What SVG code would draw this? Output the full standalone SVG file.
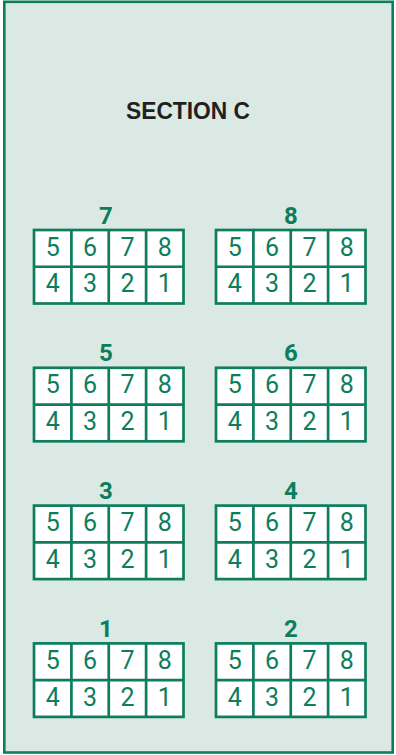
<svg xmlns="http://www.w3.org/2000/svg" width="396" height="755" viewBox="0 0 396 755">
<style>
.bg{fill:#dbe9e4;stroke:#0d7d5d;stroke-width:2.6}
.box{fill:#ffffff;stroke:#0d7d5d;stroke-width:2.7}
.ln{stroke:#0d7d5d;stroke-width:2.7}
.d{font-family:Roboto,"Liberation Sans",sans-serif;font-size:25px;fill:#0d7d5d;text-anchor:middle}
.lbl{font-family:Roboto,"Liberation Sans",sans-serif;font-size:24px;font-weight:bold;fill:#0d7d5d;text-anchor:middle}
.title{font-family:"Liberation Sans",Arial,sans-serif;font-size:24px;font-weight:bold;fill:#231f20}
</style>
<rect class="bg" x="4.3" y="1.8" width="388.4" height="750.7"/>
<text class="title" x="126" y="119" textLength="124" lengthAdjust="spacingAndGlyphs">SECTION C</text>
<g id="connectors"/>
<g id="table-7" transform="translate(34,230)">
<text class="lbl" x="72" y="-6.5">7</text>
<rect class="box" x="0" y="0" width="149.5" height="73.5"/>
<line class="ln" x1="0" y1="36.75" x2="149.5" y2="36.75"/>
<line class="ln" x1="37.4" y1="0" x2="37.4" y2="73.5"/>
<line class="ln" x1="74.75" y1="0" x2="74.75" y2="73.5"/>
<line class="ln" x1="112.1" y1="0" x2="112.1" y2="73.5"/>
<text class="d" x="18.7" y="25.7">5</text><text class="d" x="56.1" y="25.7">6</text><text class="d" x="93.45" y="25.7">7</text><text class="d" x="130.8" y="25.7">8</text>
<text class="d" x="18.7" y="62.3">4</text><text class="d" x="56.1" y="62.3">3</text><text class="d" x="93.45" y="62.3">2</text><text class="d" x="130.8" y="62.3">1</text>
</g>
<g id="table-8" transform="translate(216,230)">
<text class="lbl" x="75" y="-6.5">8</text>
<rect class="box" x="0" y="0" width="149.5" height="73.5"/>
<line class="ln" x1="0" y1="36.75" x2="149.5" y2="36.75"/>
<line class="ln" x1="37.4" y1="0" x2="37.4" y2="73.5"/>
<line class="ln" x1="74.75" y1="0" x2="74.75" y2="73.5"/>
<line class="ln" x1="112.1" y1="0" x2="112.1" y2="73.5"/>
<text class="d" x="18.7" y="25.7">5</text><text class="d" x="56.1" y="25.7">6</text><text class="d" x="93.45" y="25.7">7</text><text class="d" x="130.8" y="25.7">8</text>
<text class="d" x="18.7" y="62.3">4</text><text class="d" x="56.1" y="62.3">3</text><text class="d" x="93.45" y="62.3">2</text><text class="d" x="130.8" y="62.3">1</text>
</g>
<g id="table-5" transform="translate(34,367.8)">
<text class="lbl" x="72" y="-6.5">5</text>
<rect class="box" x="0" y="0" width="149.5" height="73.5"/>
<line class="ln" x1="0" y1="36.75" x2="149.5" y2="36.75"/>
<line class="ln" x1="37.4" y1="0" x2="37.4" y2="73.5"/>
<line class="ln" x1="74.75" y1="0" x2="74.75" y2="73.5"/>
<line class="ln" x1="112.1" y1="0" x2="112.1" y2="73.5"/>
<text class="d" x="18.7" y="25.7">5</text><text class="d" x="56.1" y="25.7">6</text><text class="d" x="93.45" y="25.7">7</text><text class="d" x="130.8" y="25.7">8</text>
<text class="d" x="18.7" y="62.3">4</text><text class="d" x="56.1" y="62.3">3</text><text class="d" x="93.45" y="62.3">2</text><text class="d" x="130.8" y="62.3">1</text>
</g>
<g id="table-6" transform="translate(216,367.8)">
<text class="lbl" x="75" y="-6.5">6</text>
<rect class="box" x="0" y="0" width="149.5" height="73.5"/>
<line class="ln" x1="0" y1="36.75" x2="149.5" y2="36.75"/>
<line class="ln" x1="37.4" y1="0" x2="37.4" y2="73.5"/>
<line class="ln" x1="74.75" y1="0" x2="74.75" y2="73.5"/>
<line class="ln" x1="112.1" y1="0" x2="112.1" y2="73.5"/>
<text class="d" x="18.7" y="25.7">5</text><text class="d" x="56.1" y="25.7">6</text><text class="d" x="93.45" y="25.7">7</text><text class="d" x="130.8" y="25.7">8</text>
<text class="d" x="18.7" y="62.3">4</text><text class="d" x="56.1" y="62.3">3</text><text class="d" x="93.45" y="62.3">2</text><text class="d" x="130.8" y="62.3">1</text>
</g>
<g id="table-3" transform="translate(34,505.6)">
<text class="lbl" x="72" y="-6.5">3</text>
<rect class="box" x="0" y="0" width="149.5" height="73.5"/>
<line class="ln" x1="0" y1="36.75" x2="149.5" y2="36.75"/>
<line class="ln" x1="37.4" y1="0" x2="37.4" y2="73.5"/>
<line class="ln" x1="74.75" y1="0" x2="74.75" y2="73.5"/>
<line class="ln" x1="112.1" y1="0" x2="112.1" y2="73.5"/>
<text class="d" x="18.7" y="25.7">5</text><text class="d" x="56.1" y="25.7">6</text><text class="d" x="93.45" y="25.7">7</text><text class="d" x="130.8" y="25.7">8</text>
<text class="d" x="18.7" y="62.3">4</text><text class="d" x="56.1" y="62.3">3</text><text class="d" x="93.45" y="62.3">2</text><text class="d" x="130.8" y="62.3">1</text>
</g>
<g id="table-4" transform="translate(216,505.6)">
<text class="lbl" x="75" y="-6.5">4</text>
<rect class="box" x="0" y="0" width="149.5" height="73.5"/>
<line class="ln" x1="0" y1="36.75" x2="149.5" y2="36.75"/>
<line class="ln" x1="37.4" y1="0" x2="37.4" y2="73.5"/>
<line class="ln" x1="74.75" y1="0" x2="74.75" y2="73.5"/>
<line class="ln" x1="112.1" y1="0" x2="112.1" y2="73.5"/>
<text class="d" x="18.7" y="25.7">5</text><text class="d" x="56.1" y="25.7">6</text><text class="d" x="93.45" y="25.7">7</text><text class="d" x="130.8" y="25.7">8</text>
<text class="d" x="18.7" y="62.3">4</text><text class="d" x="56.1" y="62.3">3</text><text class="d" x="93.45" y="62.3">2</text><text class="d" x="130.8" y="62.3">1</text>
</g>
<g id="table-1" transform="translate(34,643.4)">
<text class="lbl" x="72" y="-6.5">1</text>
<rect class="box" x="0" y="0" width="149.5" height="73.5"/>
<line class="ln" x1="0" y1="36.75" x2="149.5" y2="36.75"/>
<line class="ln" x1="37.4" y1="0" x2="37.4" y2="73.5"/>
<line class="ln" x1="74.75" y1="0" x2="74.75" y2="73.5"/>
<line class="ln" x1="112.1" y1="0" x2="112.1" y2="73.5"/>
<text class="d" x="18.7" y="25.7">5</text><text class="d" x="56.1" y="25.7">6</text><text class="d" x="93.45" y="25.7">7</text><text class="d" x="130.8" y="25.7">8</text>
<text class="d" x="18.7" y="62.3">4</text><text class="d" x="56.1" y="62.3">3</text><text class="d" x="93.45" y="62.3">2</text><text class="d" x="130.8" y="62.3">1</text>
</g>
<g id="table-2" transform="translate(216,643.4)">
<text class="lbl" x="75" y="-6.5">2</text>
<rect class="box" x="0" y="0" width="149.5" height="73.5"/>
<line class="ln" x1="0" y1="36.75" x2="149.5" y2="36.75"/>
<line class="ln" x1="37.4" y1="0" x2="37.4" y2="73.5"/>
<line class="ln" x1="74.75" y1="0" x2="74.75" y2="73.5"/>
<line class="ln" x1="112.1" y1="0" x2="112.1" y2="73.5"/>
<text class="d" x="18.7" y="25.7">5</text><text class="d" x="56.1" y="25.7">6</text><text class="d" x="93.45" y="25.7">7</text><text class="d" x="130.8" y="25.7">8</text>
<text class="d" x="18.7" y="62.3">4</text><text class="d" x="56.1" y="62.3">3</text><text class="d" x="93.45" y="62.3">2</text><text class="d" x="130.8" y="62.3">1</text>
</g>
</svg>
